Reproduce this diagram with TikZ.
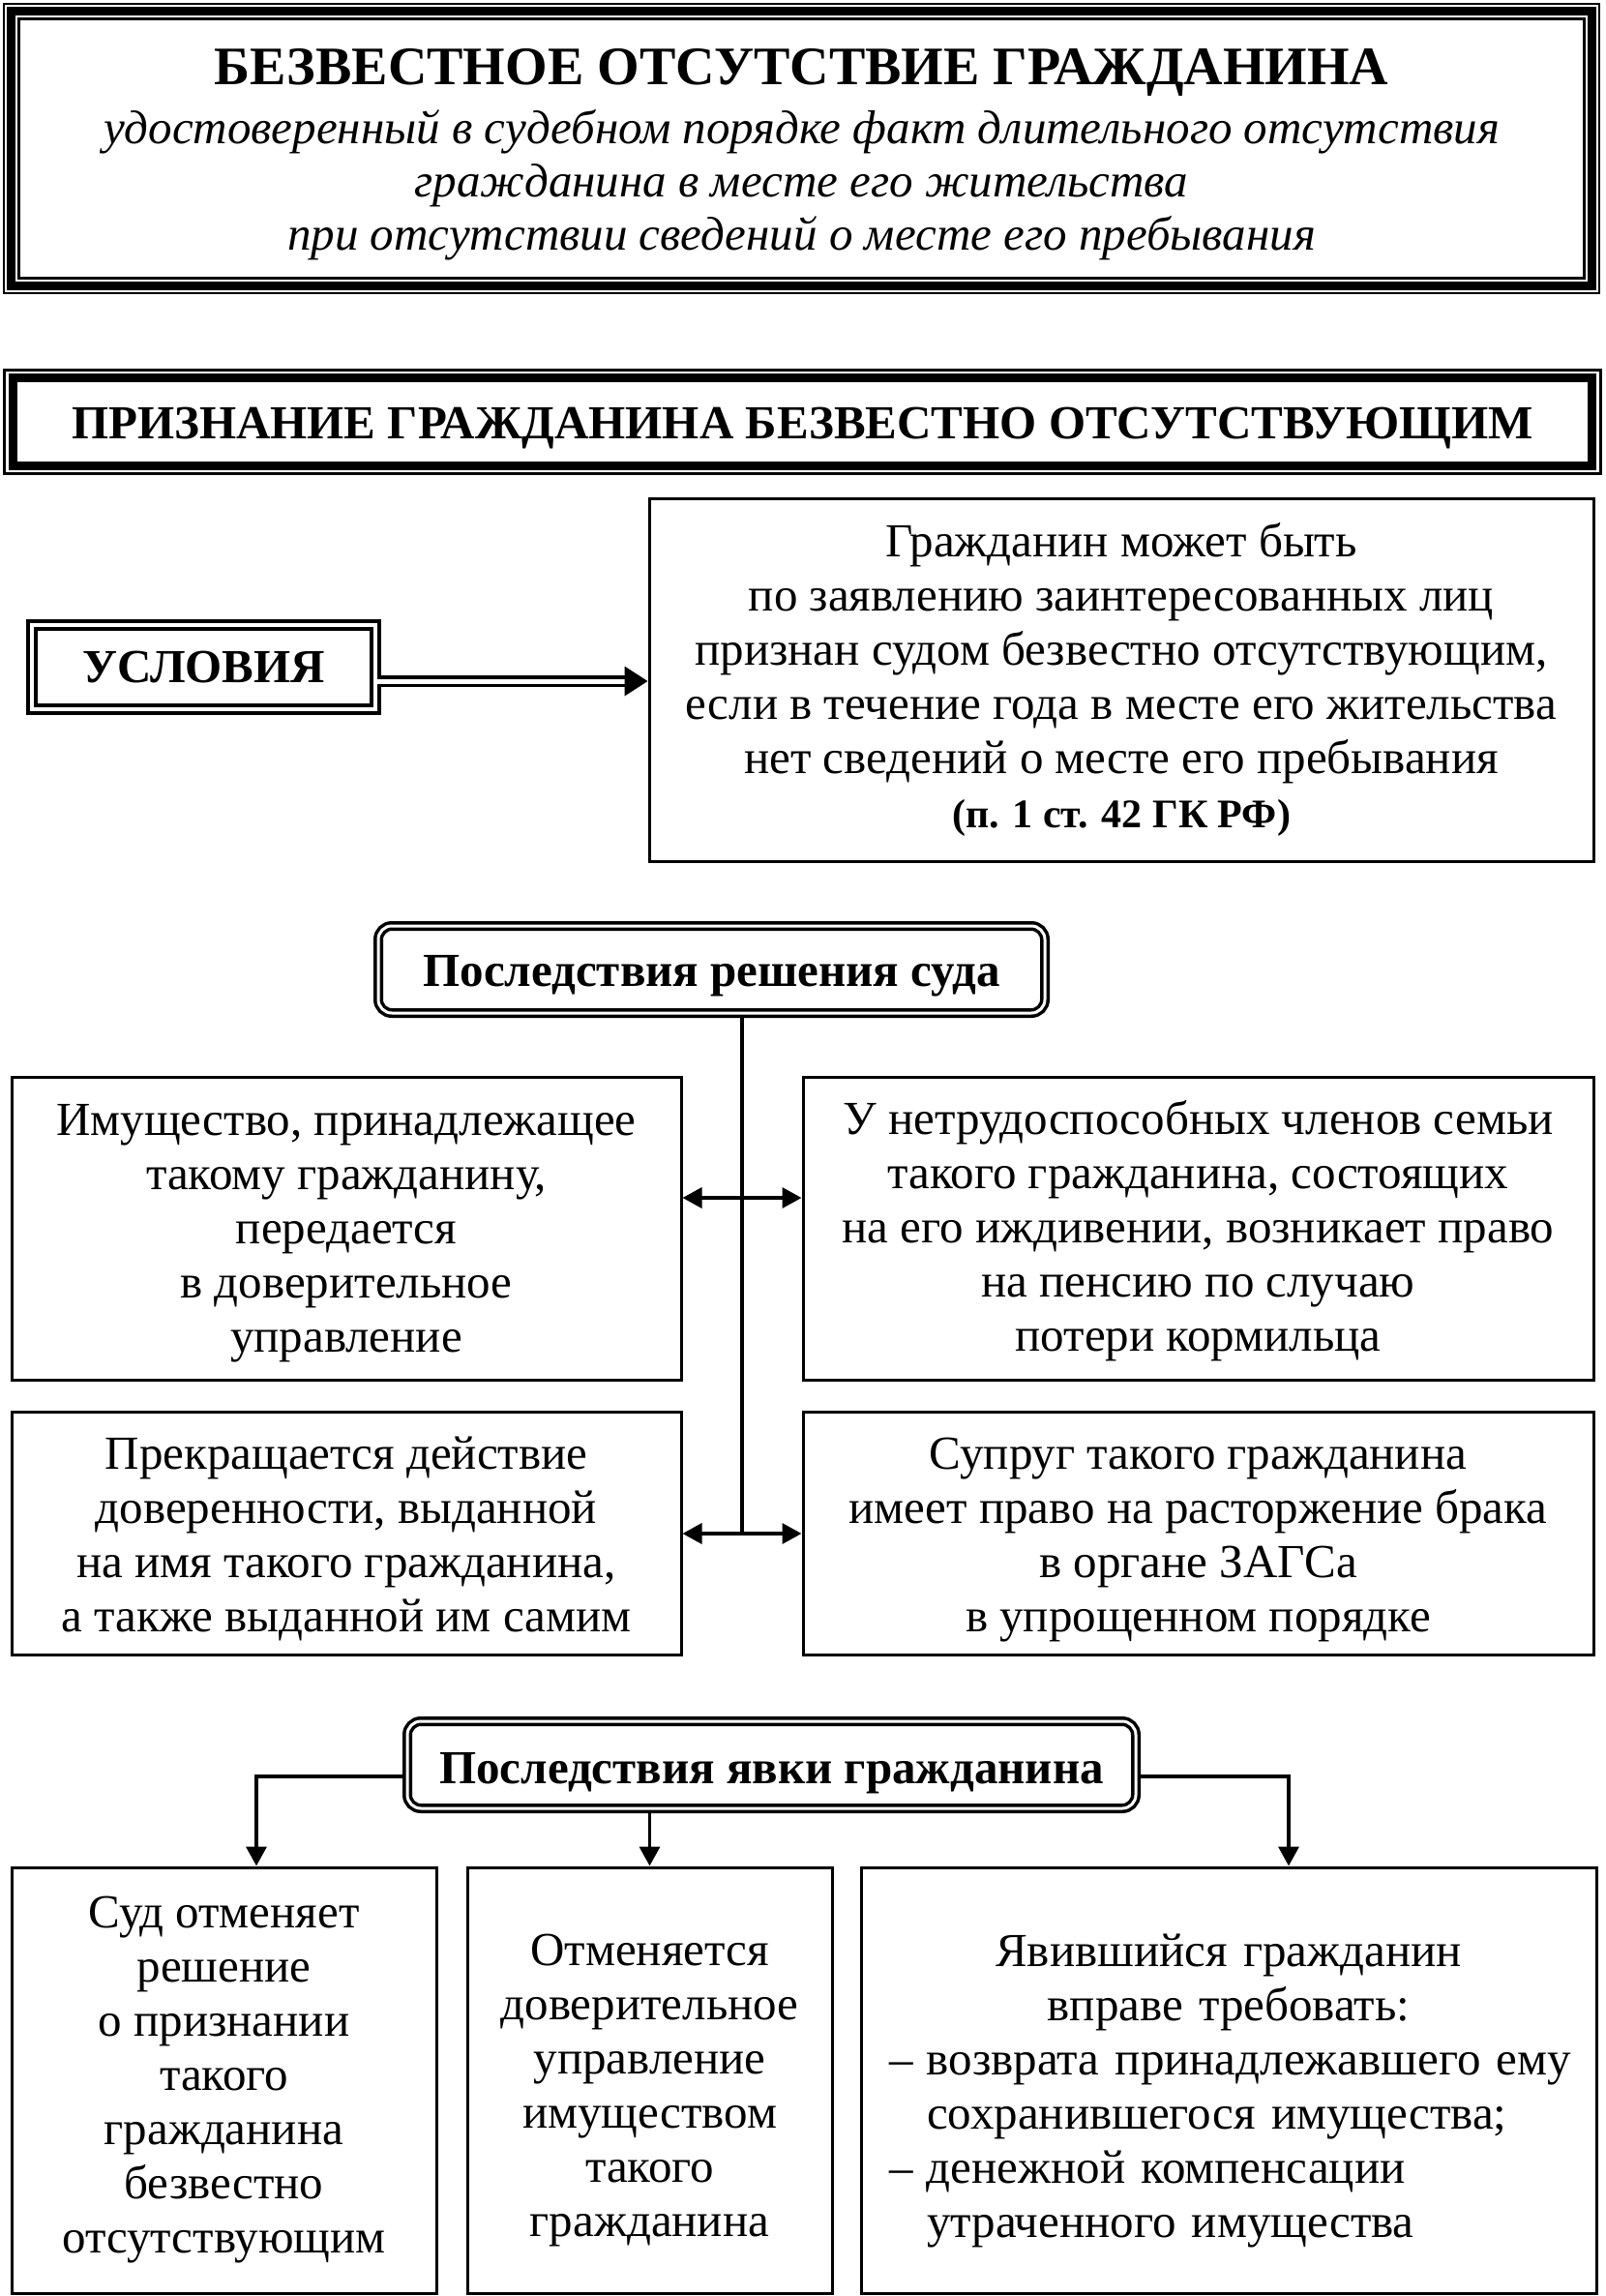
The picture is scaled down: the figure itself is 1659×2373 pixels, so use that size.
\documentclass[tikz,border=0pt]{standalone}
\usepackage{fontspec}
\setmainfont{Liberation Serif}
\usetikzlibrary{arrows.meta}
\newcommand\sd[1]{\rule{0pt}{#1pt}}
\begin{document}
\begin{tikzpicture}[x=1pt,y=-1pt,
 txt/.style={font=\fontsize{49}{56}\selectfont, align=center, inner sep=0pt},
 box/.style={txt, draw, line width=3pt},
 dbox/.style={draw, double, line width=4pt, double distance=4pt, inner sep=0pt, font=\fontsize{49}{56}\selectfont\bfseries},
 rbox/.style={draw, double, line width=3.5pt, double distance=3pt, rounded corners=14pt, inner sep=0pt, font=\fontsize{49}{56}\selectfont\bfseries},
 conn/.style={line width=4.5pt},
 arr/.style={line width=3.5pt, -{Triangle[length=20pt,width=21pt]}},
 biarr/.style={line width=3.5pt, {Triangle[length=20pt,width=21pt]}-{Triangle[length=20pt,width=21pt]}},
]
\fill[white] (0,0) rectangle (1659,2373);
\useasboundingbox (0,0) rectangle (1659,2373);

% title box
\node[draw, line width=2.7pt, inner sep=0pt, minimum width=1649pt, minimum height=299pt] (title) at (828.5,153.5) {};
\draw[line width=9pt] ([shift={(8.5,8.5)}]title.north west) rectangle ([shift={(-8.5,-8.5)}]title.south east);
\draw[line width=3pt] ([shift={(17,17)}]title.north west) rectangle ([shift={(-17,-17)}]title.south east);
\node[align=center, inner sep=0pt, font=\fontsize{49}{55}\selectfont] (titletext) at (828.5,159.5)
 {{\fontsize{56}{60}\selectfont\bfseries БЕЗВЕСТНОЕ ОТСУТСТВИЕ ГРАЖДАНИНА}\\[6pt]
  \itshape удостоверенный в судебном порядке факт длительного отсутствия\\
  \itshape гражданина в месте его жительства\\
  \itshape при отсутствии сведений о месте его пребывания};

% second header
\node[draw, line width=3pt, inner sep=0pt, minimum width=1649.5pt, minimum height=107pt,
  text height=35pt, text depth=0pt,
  font=\fontsize{49}{56}\selectfont\bfseries] (h2) at (829.25,435.5)
 {ПРИЗНАНИЕ ГРАЖДАНИНА БЕЗВЕСТНО ОТСУТСТВУЮЩИМ};
\draw[line width=9pt] ([shift={(10.5,9.5)}]h2.north west) rectangle ([shift={(-10.5,-9.5)}]h2.south east);

% conditions
\node[dbox, minimum width=355pt, minimum height=87pt] (usl) at (210.5,689.5) {УСЛОВИЯ};
\node[box, minimum width=976pt, minimum height=375pt] (cond) at (1159,702.5)
 {Гражданин может быть\\ по заявлению заинтересованных лиц\\ признан судом безвестно отсутствующим,\\
  если в течение года в месте его жительства\\ нет сведений о месте его пребывания\\
  {\fontsize{42}{56}\selectfont\bfseries (п. 1 ст. 42 ГК РФ)}};
\coordinate (ya) at (0,704);
\draw[line width=3.3pt, double, double distance=5pt, shorten >=20pt] (usl.east |- ya) -- (cond.west |- ya);
\fill (cond.west |- ya) -- ++(-24,-15.5) -- ++(0,31) -- cycle;

% court decision consequences
\node[rbox, minimum width=689pt, minimum height=90pt, text height=34pt, text depth=0pt] (cons) at (735.5,1002) {Последствия решения суда};
\node[box, minimum width=692pt, minimum height=313pt] (l1) at (358,1269.5)
 {\sd{42.5}Имущество, принадлежащее\\ такому гражданину,\\ передается\\ в доверительное\\ управление};
\node[box, minimum width=817pt, minimum height=313pt] (r1) at (1238.5,1269.5)
 {\sd{39.5}У нетрудоспособных членов семьи\\ такого гражданина, состоящих\\ на его иждивении, возникает право\\ на пенсию по случаю\\ потери кормильца};
\node[box, minimum width=692pt, minimum height=251pt] (l2) at (358,1584.5)
 {\sd{45.5}Прекращается действие\\ доверенности, выданной\\ на имя такого гражданина,\\ а также выданной им самим};
\node[box, minimum width=817pt, minimum height=251pt] (r2) at (1238.5,1584.5)
 {\sd{47.5}Супруг такого гражданина\\ имеет право на расторжение брака\\ в органе ЗАГСа\\ в упрощенном порядке};
\coordinate (j1) at (767,1238);
\coordinate (j2) at (767,1585);
\draw[conn] (cons.south -| j1) -- (j2);
\draw[biarr] (l1.east |- j1) -- (r1.west |- j1);
\draw[biarr] (l2.east |- j2) -- (r2.west |- j2);

% appearance consequences
\node[rbox, minimum width=753pt, minimum height=90pt, text height=38pt, text depth=0pt] (app) at (797.5,1824) {Последствия явки гражданина};
\node[box, minimum width=439pt, minimum height=440pt] (b1) at (231.5,2150)
 {Суд отменяет\\ решение\\ о признании\\ такого\\ гражданина\\ безвестно\\ отсутствующим};
\node[box, minimum width=377pt, minimum height=440pt] (b2) at (671.5,2150)
 {\sd{53.5}Отменяется\\ доверительное\\ управление\\ имуществом\\ такого\\ гражданина};
\node[box, minimum width=754pt, minimum height=440pt, text width=760pt, align=left] (b3) at (1270,2150)
 {\centering\sd{56}Явившийся гражданин\\ вправе требовать:\par
  \raggedright
  \noindent\hspace*{29pt}\makebox[39pt][l]{–}возврата принадлежавшего ему\\
  \hspace*{68pt}сохранившегося имущества;\\
  \hspace*{29pt}\makebox[39pt][l]{–}денежной компенсации\\
  \hspace*{68pt}утраченного имущества\par};
\coordinate (ja) at (265,1836);
\coordinate (jc) at (1332,1836);
\draw[arr] (app.west |- ja) -| (b1.north -| ja);
\draw[arr] (app.south -| b2.north) -- (b2.north);
\draw[arr] (app.east |- jc) -| (b3.north -| jc);
\end{tikzpicture}
\end{document}
